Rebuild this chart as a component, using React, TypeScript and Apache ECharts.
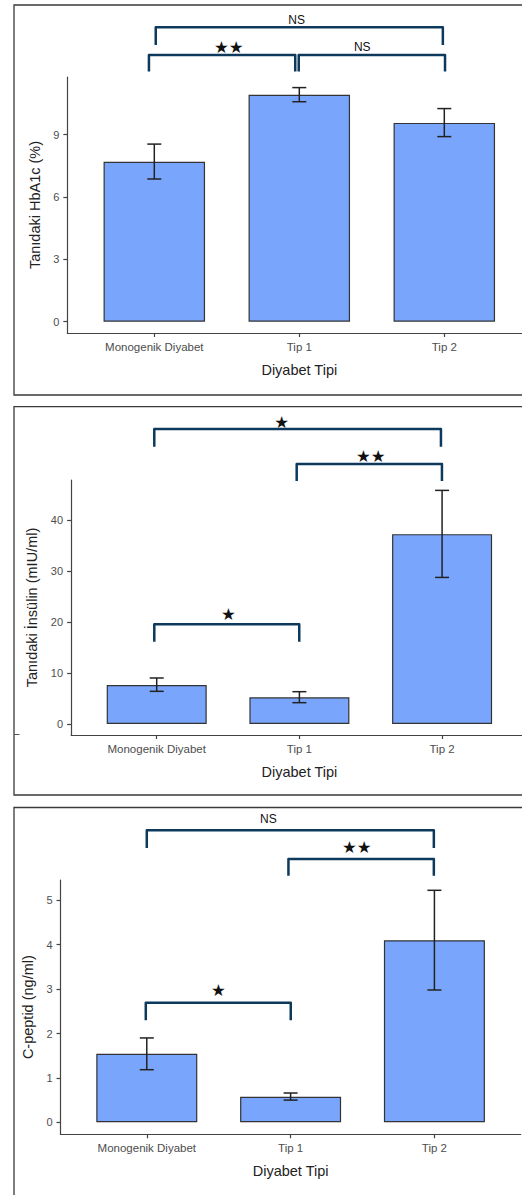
import React, { useEffect, useRef } from "react";
import * as echarts from "echarts";

// ---------- data ----------
const categories = ["Monogenik Diyabet", "Tip 1", "Tip 2"];

const hba1cMean = [7.7, 10.92, 9.57];
const hba1cLow = [6.87, 10.59, 8.91];
const hba1cHigh = [8.55, 11.27, 10.26];
const hba1cTicks = [0, 3, 6, 9];

const insulinMean = [7.66, 5.24, 37.3];
const insulinLow = [6.42, 4.19, 28.8];
const insulinHigh = [9.04, 6.35, 45.9];
const insulinTicks = [0, 10, 20, 30, 40];

const cpepMean = [1.545, 0.577, 4.1];
const cpepLow = [1.185, 0.5, 2.98];
const cpepHigh = [1.9, 0.66, 5.225];
const cpepTicks = [0, 1, 2, 3, 4, 5];

// brackets: [x1, x2, barY, legY, labelX, labelY]
const hba1cBrackets = [
  [0.01, 1.99, 14.17, 13.32, 0.982, 14.53],
  [-0.037, 0.972, 12.84, 12.04, 0.513, 13.24],
  [0.996, 2.005, 12.84, 12.04, 1.434, 13.22],
];
const hba1cBracketLabels = ["NS", "★★", "NS"];

const insulinBrackets = [
  [-0.017, 1.992, 57.96, 54.48, 0.876, 59.49],
  [0.981, 1.999, 51.08, 47.74, 1.5, 52.85],
  [-0.017, 0.999, 19.59, 16.17, 0.502, 21.75],
];
const insulinBracketLabels = ["★", "★★", "★"];

const cpepBrackets = [
  [0.0, 1.996, 6.58, 6.18, 0.846, 6.83],
  [0.985, 1.996, 5.93, 5.55, 1.46, 6.22],
  [-0.007, 1.001, 2.69, 2.3, 0.498, 2.98],
];
const cpepBracketLabels = ["NS", "★★", "★"];

// ---------- styles ----------
const BAR_FILL = "#79a6fc";
const BAR_BORDER = "#333333";
const AXIS_COLOR = "#444444";
const TICK_LABEL = "#4d4d4d";
const TITLE_COLOR = "#222222";
const BRACKET_COLOR = "#0d3a5c";
const FONT = "'Liberation Sans', Arial, sans-serif";

type Panel = {
  grid: { left: number; top: number; width: number; height: number };
  yMin: number;
  yMax: number;
  ticks: number[];
  yName: string;
  yNameGap: number;
  mean: number[];
  low: number[];
  high: number[];
  barWidth: number;
  brackets: number[][];
  labels: string[];
};

const panels: Panel[] = [
  {
    grid: { left: 67.3, top: 77, width: 464, height: 256 },
    yMin: -0.544,
    yMax: 11.78,
    ticks: hba1cTicks,
    yName: "Tanıdaki HbA1c (%)",
    yNameGap: 25,
    mean: hba1cMean,
    low: hba1cLow,
    high: hba1cHigh,
    barWidth: 101.5,
    brackets: hba1cBrackets,
    labels: hba1cBracketLabels,
  },
  {
    grid: { left: 71.1, top: 480, width: 456.6, height: 255 },
    yMin: -2.16,
    yMax: 47.94,
    ticks: insulinTicks,
    yName: "Tanıdaki İnsülin (mIU/ml)",
    yNameGap: 31,
    mean: insulinMean,
    low: insulinLow,
    high: insulinHigh,
    barWidth: 100,
    brackets: insulinBrackets,
    labels: insulinBracketLabels,
  },
  {
    grid: { left: 60.5, top: 880, width: 460.2, height: 254.3 },
    yMin: -0.27,
    yMax: 5.457,
    ticks: cpepTicks,
    yName: "C-peptid (ng/ml)",
    yNameGap: 24,
    mean: cpepMean,
    low: cpepLow,
    high: cpepHigh,
    barWidth: 101,
    brackets: cpepBrackets,
    labels: cpepBracketLabels,
  },
];

function buildOption() {
  const grid: any[] = [];
  const xAxis: any[] = [];
  const yAxis: any[] = [];
  const series: any[] = [];
  const catIdx = categories.map((_, i) => i);

  panels.forEach((p, k) => {
    grid.push({ ...p.grid, containLabel: false, outerBoundsMode: "none" });
    xAxis.push({
      type: "value",
      gridIndex: k,
      min: -0.6,
      max: 2.6,
      splitLine: { show: false },
      axisLine: { show: true, onZero: false, lineStyle: { color: AXIS_COLOR, width: 1.2 } },
      axisTick: {
        show: true,
        length: 4,
        customValues: catIdx,
        lineStyle: { color: AXIS_COLOR, width: 1.2 },
      },
      axisLabel: {
        show: true,
        customValues: catIdx,
        formatter: (v: number) => categories[Math.round(v)] ?? "",
        color: TICK_LABEL,
        fontSize: 11.5,
        fontFamily: FONT,
        margin: 8,
      },
      name: "Diyabet Tipi",
      nameLocation: "middle",
      nameGap: 29,
      nameTextStyle: { color: TITLE_COLOR, fontSize: 14.5, fontFamily: FONT },
    });
    yAxis.push({
      type: "value",
      gridIndex: k,
      min: p.yMin,
      max: p.yMax,
      splitLine: { show: false },
      axisLine: { show: true, onZero: false, lineStyle: { color: AXIS_COLOR, width: 1.2 } },
      axisTick: {
        show: true,
        length: 4,
        customValues: p.ticks,
        lineStyle: { color: AXIS_COLOR, width: 1.2 },
      },
      axisLabel: {
        show: true,
        customValues: p.ticks,
        color: TICK_LABEL,
        fontSize: 11,
        fontFamily: FONT,
        margin: 8,
      },
      name: p.yName,
      nameLocation: "middle",
      nameGap: p.yNameGap,
      nameTextStyle: { color: TITLE_COLOR, fontSize: 14.5, fontFamily: FONT },
    });

    series.push({
      type: "bar",
      xAxisIndex: k,
      yAxisIndex: k,
      barWidth: p.barWidth,
      data: p.mean.map((v, i) => [i, v]),
      itemStyle: { color: BAR_FILL, borderColor: BAR_BORDER, borderWidth: 1.2 },
      silent: true,
      z: 2,
    });

    series.push({
      type: "custom",
      xAxisIndex: k,
      yAxisIndex: k,
      silent: true,
      z: 3,
      encode: { x: 0, y: [1, 2] },
      data: p.mean.map((_, i) => [i, p.low[i], p.high[i]]),
      renderItem: (params: any, api: any) => {
        const lo = api.coord([api.value(0), api.value(1)]);
        const hi = api.coord([api.value(0), api.value(2)]);
        const hw = 7;
        const st = { stroke: "#222222", lineWidth: 1.5 };
        return {
          type: "group",
          children: [
            { type: "line", shape: { x1: lo[0], y1: lo[1], x2: hi[0], y2: hi[1] }, style: st },
            { type: "line", shape: { x1: lo[0] - hw, y1: lo[1], x2: lo[0] + hw, y2: lo[1] }, style: st },
            { type: "line", shape: { x1: hi[0] - hw, y1: hi[1], x2: hi[0] + hw, y2: hi[1] }, style: st },
          ],
        };
      },
    });

    series.push({
      type: "custom",
      xAxisIndex: k,
      yAxisIndex: k,
      silent: true,
      clip: false,
      z: 4,
      encode: { x: [0, 1, 4], y: [2, 3, 5] },
      data: p.brackets,
      renderItem: (params: any, api: any) => {
        const a = api.coord([api.value(0), api.value(3)]);
        const b = api.coord([api.value(0), api.value(2)]);
        const c = api.coord([api.value(1), api.value(2)]);
        const d = api.coord([api.value(1), api.value(3)]);
        const l = api.coord([api.value(4), api.value(5)]);
        const label = p.labels[params.dataIndex];
        const isStar = label.indexOf("★") >= 0;
        return {
          type: "group",
          children: [
            {
              type: "polyline",
              shape: { points: [a, b, c, d] },
              style: {
                stroke: BRACKET_COLOR,
                lineWidth: 2.5,
                fill: "none",
                lineJoin: "round",
              },
            },
            {
              type: "text",
              x: l[0],
              y: isStar ? l[1] + 1 : l[1],
              style: {
                text: label,
                fill: "#111111",
                fontSize: isStar ? 16.5 : 12,
                fontFamily: isStar ? "'DejaVu Sans', sans-serif" : FONT,
                align: "center",
                verticalAlign: "middle",
              },
            },
          ],
        };
      },
    });
  });

  const borderStyle = { fill: "none", stroke: "#3a3a3a", lineWidth: 1.3 };
  const graphic = [
    { type: "rect", silent: true, shape: { x: 14, y: 5, width: 530, height: 390 }, style: borderStyle },
    { type: "rect", silent: true, shape: { x: 14, y: 406.7, width: 530, height: 388.3 }, style: borderStyle },
    { type: "rect", silent: true, shape: { x: 14, y: 807.5, width: 530, height: 400 }, style: borderStyle },
    { type: "line", silent: true, shape: { x1: 14, y1: 734.5, x2: 19.5, y2: 734.5 }, style: { stroke: "#555", lineWidth: 1 } },
  ];

  return {
    animation: false,
    backgroundColor: "#ffffff",
    grid,
    xAxis,
    yAxis,
    series,
    graphic,
  };
}

export default function App() {
  const ref = useRef<HTMLDivElement>(null);
  useEffect(() => {
    if (!ref.current) return;
    const chart = echarts.init(ref.current, undefined, { renderer: "svg" });
    chart.setOption(buildOption() as any);
    return () => chart.dispose();
  }, []);
  return (
    <div
      ref={ref}
      style={{ position: "absolute", left: 0, top: 0, width: 522, height: 1195, background: "#fff" }}
    />
  );
}
